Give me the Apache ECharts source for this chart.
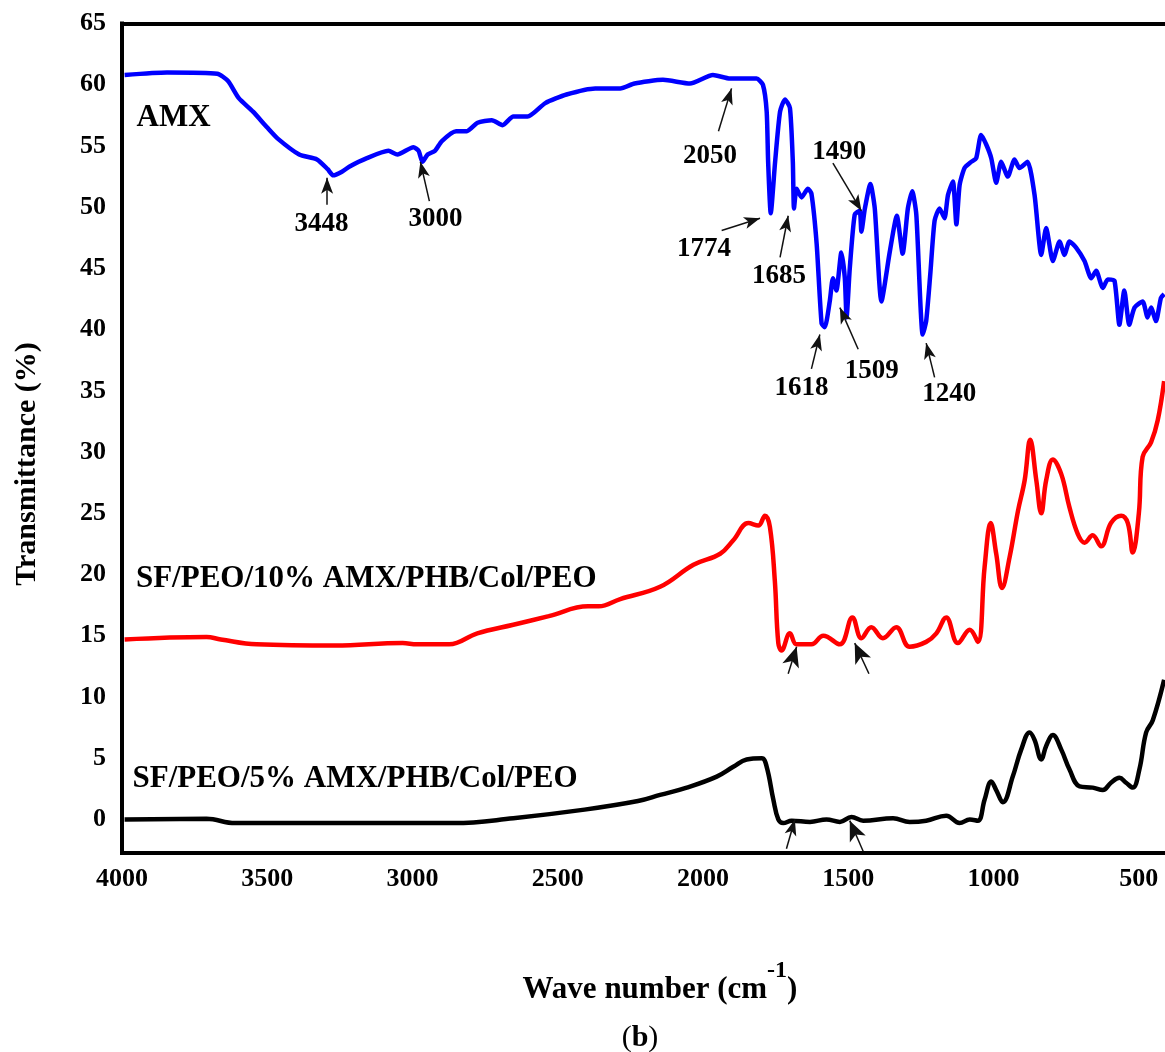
<!DOCTYPE html>
<html>
<head>
<meta charset="utf-8">
<script src="https://cdn.jsdelivr.net/npm/echarts@6/dist/echarts.min.js"></script>
<style>
html,body{margin:0;padding:0;background:#fff;}
#chart{width:1165px;height:1052px;}
</style>
</head>
<body>
<div id="chart"></div>
<script>
// ---- Data (wavenumber cm^-1, transmittance %) ----
const amx = [
[3991,60.8],[3845,61.0],[3672,60.9],[3635,60.3],[3598,58.9],[3549,57.8],[3500,56.5],[3464,55.6],
[3390,54.3],[3329,53.9],[3292,53.1],[3273,52.6],[3243,52.9],[3218,53.3],[3157,54.0],[3083,54.6],
[3052,54.3],[2997,54.9],[2979,54.6],[2966,53.7],[2948,54.3],[2923,54.6],[2899,55.4],[2850,56.2],
[2813,56.2],[2776,56.9],[2727,57.1],[2690,56.7],[2653,57.4],[2604,57.4],[2543,58.5],[2470,59.2],
[2371,59.7],[2285,59.7],[2236,60.1],[2138,60.4],[2045,60.1],[1966,60.8],[1907,60.5],[1816,60.5],
[1794,60.0],[1781,57.8],[1776,53.7],[1767,49.5],[1752,53.7],[1735,57.8],[1718,58.8],[1701,58.1],
[1691,53.7],[1687,49.9],[1678,51.5],[1661,50.8],[1639,51.5],[1627,51.1],[1609,47.0],[1592,40.5],
[1581,40.2],[1564,42.3],[1553,44.2],[1541,43.2],[1524,46.3],[1512,44.2],[1506,41.0],[1495,45.0],
[1478,49.4],[1461,49.7],[1455,48.0],[1443,49.9],[1424,51.9],[1409,49.9],[1386,42.3],[1357,46.4],
[1333,49.3],[1313,46.2],[1295,49.9],[1280,51.3],[1266,49.4],[1244,39.6],[1232,40.7],[1218,44.5],
[1203,48.9],[1186,49.9],[1169,49.1],[1157,51.0],[1140,52.1],[1128,48.6],[1117,51.8],[1100,53.2],
[1077,53.7],[1060,54.0],[1043,55.9],[1025,55.1],[1008,54.0],[991,52.0],[974,53.7],[951,52.5],
[928,53.9],[911,53.2],[883,53.7],[859,51.0],[836,46.1],[819,48.3],[796,45.6],[773,47.2],
[756,46.1],[739,47.2],[716,46.7],[687,45.6],[664,44.2],[647,44.8],[624,43.4],[607,44.1],
[584,44.0],[567,40.4],[550,43.2],[533,40.4],[515,41.8],[487,42.3],[470,41.0],[458,41.8],
[441,40.7],[424,42.6],[413,42.9]
];
const sf10 = [
[3991,14.7],[3709,14.9],[3660,14.7],[3537,14.3],[3267,14.2],[3034,14.4],[2985,14.3],[2874,14.3],
[2777,15.2],[2653,15.9],[2531,16.6],[2396,17.4],[2359,17.4],[2285,18.0],[2148,19.0],[2033,20.8],
[1941,21.7],[1896,22.8],[1844,24.2],[1810,24.0],[1787,24.8],[1770,23.9],[1753,19.5],[1741,14.4],
[1730,13.8],[1701,15.2],[1678,14.3],[1627,14.3],[1586,15.0],[1529,14.3],[1486,16.5],[1455,14.8],
[1421,15.7],[1381,14.8],[1335,15.7],[1289,14.1],[1232,14.5],[1197,15.2],[1163,16.5],[1123,14.4],
[1082,15.5],[1054,14.5],[1031,20.6],[1010,24.2],[991,21.7],[971,18.9],[945,21.4],[916,25.2],
[893,27.7],[874,31.0],[853,27.7],[836,25.0],[819,27.7],[796,29.4],[767,28.2],[739,25.5],
[710,23.3],[687,22.6],[659,23.2],[630,22.3],[596,24.2],[561,24.8],[538,24.2],[521,21.8],
[500,25.0],[487,29.6],[458,30.8],[435,32.6],[413,35.8]
];
const sf5 = [
[3991,0.0],[3709,0.05],[3611,-0.3],[3267,-0.3],[2856,-0.3],[2653,0.1],[2408,0.8],[2224,1.5],
[2148,2.0],[2056,2.6],[1953,3.5],[1896,4.3],[1850,4.9],[1798,5.0],[1781,4.3],[1758,1.6],
[1741,0.0],[1724,-0.3],[1695,-0.1],[1632,-0.2],[1575,0.0],[1529,-0.2],[1489,0.2],[1449,-0.1],
[1346,0.1],[1289,-0.2],[1232,-0.1],[1163,0.3],[1117,-0.3],[1082,0.0],[1054,-0.1],[1031,1.6],
[1008,3.1],[991,2.4],[968,1.4],[934,3.5],[905,5.7],[876,7.1],[859,6.5],[836,4.9],
[819,6.0],[796,6.9],[767,5.7],[739,4.1],[704,2.7],[659,2.6],[624,2.4],[596,3.0],
[567,3.4],[544,3.0],[521,2.6],[498,4.1],[475,7.1],[452,8.1],[413,11.4]
];
const xTicks = [500,1000,1500,2000,2500,3000,3500,4000];
const yTicks = [0,5,10,15,20,25,30,35,40,45,50,55,60,65];

// peak annotations: [wavenumber, value, text]
const peakLabels = [
[3313,48.6,'3448'],[2921,49.0,'3000'],[1976,54.2,'2050'],[1531,54.5,'1490'],
[1997,46.6,'1774'],[1739,44.4,'1685'],[1661,35.2,'1618'],[1419,36.6,'1509'],[1153,34.7,'1240']
];
const nameLabels = [
[3950,57.3,'AMX'],[3952,19.6,'SF/PEO/10% AMX/PHB/Col/PEO'],[3964,3.3,'SF/PEO/5% AMX/PHB/Col/PEO']
];
// arrows: [fromWn, fromVal, toWn, toVal]
const arrowsSmall = [
[3294,50.2,3294,52.4],[2942,50.5,2973,53.7],[1947,56.2,1902,59.7],[1553,53.6,1455,49.7],
[1936,48.1,1804,49.1],[1735,45.9,1707,49.3],[1627,36.8,1598,39.6],[1466,38.4,1529,41.8],
[1203,36.1,1232,38.9],[1713,-2.4,1684,0.0]
];
const arrowsBig = [
[1707,11.9,1678,14.1],[1429,11.9,1478,14.4],[1449,-2.6,1495,-0.1]
];

const FONT = '"Liberation Serif", "Times New Roman", serif';
const chart = echarts.init(document.getElementById('chart'), null, {renderer:'canvas'});

function arrowData(list, size){
  return list.map(a => [
    {coord:[a[0],a[1]], symbol:'none'},
    {coord:[a[2],a[3]], symbol:'arrow', symbolSize:size}
  ]);
}
const frameLine = {show:true, onZero:false, lineStyle:{color:'#000', width:4, cap:'square'}};
const tickFmt = v => String(v);

chart.setOption({
  animation:false,
  backgroundColor:'#ffffff',
  grid:{left:122, top:23.5, right:0, height:829, show:false, containLabel:false},
  xAxis:[{
    type:'value', inverse:true, min:410, max:4000, position:'bottom',
    axisLine:frameLine, axisTick:{show:false}, splitLine:{show:false},
    axisLabel:{customValues:xTicks, formatter:tickFmt, fontFamily:FONT, fontWeight:'bold', fontSize:26, color:'#000', margin:14}
  },{
    type:'value', inverse:true, min:410, max:4000, position:'top',
    axisLine:frameLine, axisTick:{show:false}, splitLine:{show:false}, axisLabel:{show:false}
  }],
  yAxis:{
    type:'value', min:-2.7, max:65,
    axisLine:frameLine, axisTick:{show:false}, splitLine:{show:false},
    axisLabel:{customValues:yTicks, formatter:tickFmt, fontFamily:FONT, fontWeight:'bold', fontSize:26, color:'#000', margin:16}
  },
  graphic:[
    {type:'text', x:660, y:982, style:{
      textAlign:'center', textVerticalAlign:'middle',
      text:'{a|Wave number (cm}{s|-1}{a|)}',
      rich:{
        a:{fontFamily:FONT, fontWeight:'bold', fontSize:31, lineHeight:46, verticalAlign:'bottom', fill:'#000'},
        s:{fontFamily:FONT, fontWeight:'bold', fontSize:24, lineHeight:46, verticalAlign:'top', fill:'#000'}
      }}},
    {type:'text', rotation:Math.PI/2, x:27, y:464, style:{
      text:'Transmittance (%)', textAlign:'center', textVerticalAlign:'middle',
      font:'bold 30px ' + FONT, fill:'#000'}},
    {type:'text', x:640, y:1038, style:{
      text:'{p|(}{b|b}{p|)}', textAlign:'center', textVerticalAlign:'middle',
      rich:{
        p:{fontFamily:FONT, fontSize:30, fill:'#000'},
        b:{fontFamily:FONT, fontWeight:'bold', fontSize:30, fill:'#000'}
      }}}
  ],
  series:[
    {name:'AMX', type:'line', data:amx, showSymbol:false, symbol:'none', smooth:0.2,
     lineStyle:{color:'#0000ff', width:4.5}, z:3},
    {name:'SF/PEO/10% AMX/PHB/Col/PEO', type:'line', data:sf10, showSymbol:false, symbol:'none', smooth:0.4,
     lineStyle:{color:'#ff0000', width:4.5}, z:3},
    {name:'SF/PEO/5% AMX/PHB/Col/PEO', type:'line', data:sf5, showSymbol:false, symbol:'none', smooth:0.4,
     lineStyle:{color:'#000000', width:4.5}, z:3},
    {name:'peaks', type:'scatter', data:peakLabels, symbolSize:0, silent:true, z:5,
     itemStyle:{color:'#000', opacity:1},
     encode:{x:0,y:1},
     label:{show:true, position:'inside', formatter:p=>p.value[2], fontFamily:FONT, fontWeight:'bold', fontSize:27, color:'#000', opacity:1, textBorderWidth:0},
     markLine:{silent:true, animation:false, symbol:['none','arrow'],
       label:{show:false}, lineStyle:{color:'#111', width:1.5, type:'solid', opacity:1},
       data: arrowData(arrowsSmall,[9,16]).concat(arrowData(arrowsBig,[13,20]))}
    },
    {name:'names', type:'scatter', data:nameLabels, symbolSize:0, silent:true, z:5,
     itemStyle:{color:'#000', opacity:1},
     encode:{x:0,y:1},
     label:{show:true, position:'right', distance:0, formatter:p=>p.value[2], fontFamily:FONT, fontWeight:'bold', fontSize:31, color:'#000', opacity:1, textBorderWidth:0}
    }
  ]
});
</script>
</body>
</html>
